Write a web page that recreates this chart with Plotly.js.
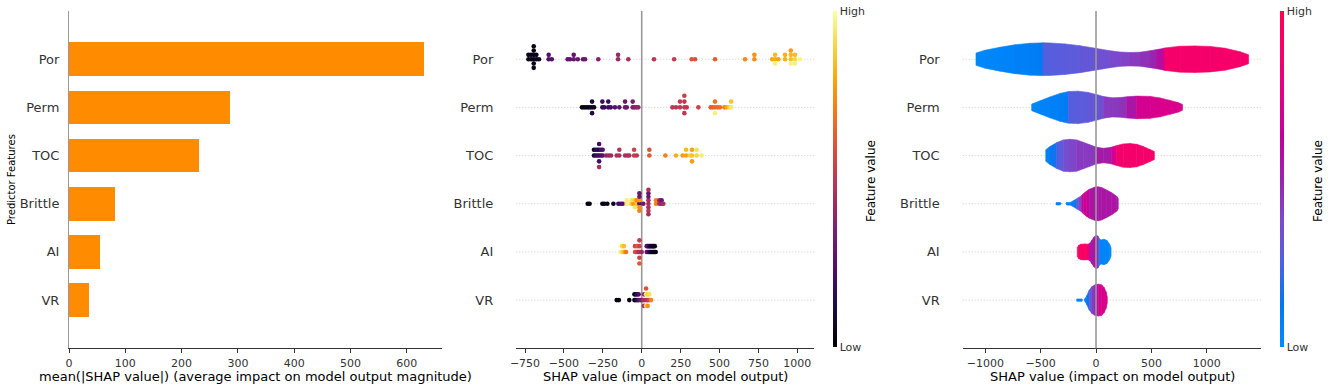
<!DOCTYPE html>
<html><head><meta charset="utf-8">
<script src="https://cdn.plot.ly/plotly-3.0.1.min.js"></script>
<style>html,body{margin:0;padding:0;background:#fff}#chart{width:1333px;height:389px}</style>
</head><body><div id="chart"></div>
<script>
// ---------------- DATA ----------------
const features = ['Por','Perm','TOC','Brittle','AI','VR'];
const meanAbsShap = [631, 286, 231, 81.5, 54.6, 35];

// beeswarm: SHAP values and normalised feature values (0 = low, 1 = high)
const porShap = [-728,-728,-711,-711,-694,-694,-694,-694,-694,-694,-677,-677,-660,-598,-598,-578,-476,-461,-437,-437,-411,-377,-364,-279,-152,-152,-86,79,208,321,343,471,664,724,724,839,857,857,857,878,921,921,958,958,958,958,985,985,985,1017];
const porFeat = [0.04,0.03,0.03,0.04,0.02,0.03,0.04,0.03,0.05,0.04,0.05,0.04,0.06,0.24,0.24,0.25,0.28,0.28,0.29,0.28,0.3,0.3,0.31,0.37,0.42,0.42,0.45,0.5,0.52,0.6,0.6,0.63,0.74,0.75,0.76,0.8,0.82,0.84,0.96,0.8,0.82,0.82,0.85,0.83,0.96,0.78,0.9,0.84,0.96,0.97];

const permShap = [-384,-371,-358,-345,-332,-319,-319,-319,-306,-253,-253,-240,-215,-215,-199,-172,-144,-107,-107,-96,-58,-58,-47,-35,-22,197,220,246,246,274,274,274,274,289,364,443,456,471,471,471,488,503,531,546,563,574,574];
const permFeat = [0.03,0.03,0.04,0.03,0.04,0.05,0.1,0.12,0.06,0.17,0.18,0.18,0.19,0.18,0.2,0.25,0.27,0.3,0.29,0.31,0.34,0.33,0.37,0.38,0.39,0.5,0.5,0.5,0.52,0.52,0.5,0.5,0.53,0.5,0.55,0.63,0.64,0.66,0.68,0.96,0.66,0.67,0.72,0.8,0.88,0.94,0.86];

const tocShap = [-307,-307,-296,-296,-285,-285,-274,-274,-274,-274,-274,-262,-262,-251,-251,-229,-212,-197,-161,-144,-144,-107,-92,-80,-49,-49,-32,49,49,152,220,263,285,285,310,323,323,323,353,353,385];
const tocFeat = [0.1,0.05,0.15,0.12,0.2,0.18,0.2,0.1,0.2,0.2,0.45,0.22,0.22,0.25,0.24,0.4,0.42,0.43,0.45,0.46,0.48,0.45,0.46,0.47,0.52,0.55,0.5,0.62,0.6,0.72,0.82,0.78,0.79,0.84,0.88,0.86,0.79,0.78,0.9,0.92,0.95];

const brittleShap = [-347,-335,-253,-240,-221,-182,-150,-135,-122,-97,-97,-86,-65,-65,-54,-54,-43,-43,-43,-32,-32,-15,-15,-15,-15,-15,-15,10,43,43,43,43,43,43,43,43,92,92,113,113,128,128,139];
const brittleFeat = [0.02,0.02,0.04,0.04,0.05,0.05,0.2,0.22,0.22,0.93,0.96,0.96,0.88,0.93,0.75,0.92,0.78,0.88,0.93,0.85,0.75,0.25,0.78,0.75,0.3,0.72,0.3,0.3,0.45,0.45,0.45,0.3,0.5,0.3,0.45,0.45,0.72,0.72,0.45,0.4,0.4,0.3,0.45];

const aiShap = [-135,-128,-128,-122,-115,-115,-108,-101,-43,-43,-36,-28,-28,-22,-15,-15,-15,-15,-15,-8,0,32,32,38,38,45,45,51,51,58,58,64,64,71,71,77,77,84,84,90];
const aiFeat = [0.96,0.93,0.92,0.9,0.88,0.85,0.8,0.7,0.6,0.55,0.58,0.55,0.62,0.5,0.45,0.55,0.55,0.52,0.62,0.48,0.42,0.3,0.28,0.27,0.25,0.22,0.2,0.15,0.12,0.1,0.08,0.06,0.07,0.05,0.04,0.04,0.05,0.03,0.05,0.04];

const vrShap = [-161,-147,-80,-47,-47,-38,-38,-30,-30,-20,-20,-8,5,15,15,15,28,28,28,28,38,38,38,48,48,60];
const vrFeat = [0.02,0.02,0.03,0.03,0.05,0.08,0.04,0.12,0.15,0.25,0.22,0.3,0.4,0.45,0.42,0.45,0.45,0.95,0.92,0.6,0.5,0.88,0.75,0.55,0.92,0.72];

// layered violins: knot SHAP position, half-width (row units), feature-value colour of the band starting there
const porVx = [-1084,-1003,-867,-732,-596,-506,-479,-416,-280,-145,-9,126,217,307,397,488,551,605,623,759,894,1030,1165,1301,1378];
const porVw = [0.128,0.186,0.248,0.300,0.331,0.337,0.340,0.337,0.317,0.280,0.228,0.176,0.149,0.139,0.145,0.176,0.200,0.222,0.234,0.269,0.275,0.265,0.228,0.155,0.093];
const porVc = [0.02,0.03,0.05,0.07,0.09,0.11,0.27,0.28,0.29,0.31,0.34,0.37,0.39,0.42,0.45,0.5,0.58,0.7,0.88,0.88,0.88,0.88,0.88,0.88,0.88];

const permVx = [-581,-506,-416,-325,-248,-163,-72,18,66,145,217,277,368,488,578,668,741,781];
const permVw = [0.068,0.135,0.217,0.290,0.327,0.337,0.311,0.259,0.226,0.199,0.203,0.220,0.234,0.228,0.197,0.145,0.099,0.062];
const permVc = [0.03,0.05,0.07,0.1,0.28,0.29,0.31,0.33,0.42,0.43,0.45,0.55,0.7,0.71,0.72,0.72,0.72,0.72];

const tocVx = [-454,-416,-355,-295,-235,-174,-115,-54,6,66,126,142,187,247,307,368,427,488,527];
const tocVw = [0.120,0.186,0.269,0.325,0.337,0.325,0.275,0.222,0.172,0.151,0.166,0.176,0.207,0.242,0.248,0.234,0.186,0.124,0.083];
const tocVc = [0.05,0.15,0.28,0.36,0.38,0.42,0.42,0.43,0.53,0.53,0.55,0.7,0.88,0.88,0.88,0.88,0.88,0.88,0.88];

const brittleVx = [-361,-325,-312,-271,-265,-229,-205,-174,-160,-129,-115,-84,-61,-9,21,51,97,142,187,201];
const brittleVw = [0.025,0.025,0,0,0.025,0.031,0.062,0.104,0.125,0.170,0.207,0.263,0.300,0.346,0.352,0.337,0.284,0.228,0.155,0.104];
const brittleVc = [0.05,0.05,0.05,0.05,0.05,0.08,0.15,0.25,0.38,0.66,0.66,0.66,0.55,0.55,0.55,0.55,0.55,0.55,0.55,0.55];

const aiVx = [-169,-158,-136,-99,-72,-54,-36,-18,0,18,32,45,72,99,122,136];
const aiVw = [0.093,0.135,0.161,0.166,0.161,0.186,0.248,0.311,0.342,0.331,0.269,0.248,0.265,0.238,0.166,0.083];
const aiVc = [0.92,0.92,0.92,0.92,0.75,0.55,0.55,0.55,0.5,0.33,0.05,0.04,0.03,0.03,0.03,0.03];

const vrVx = [-174,-129,-122,-106,-99,-84,-61,-39,-9,21,51,72,90,102];
const vrVw = [0.025,0.025,0,0,0.031,0.089,0.207,0.275,0.317,0.331,0.317,0.263,0.176,0.062];
const vrVc = [0.05,0.05,0.05,0.05,0.1,0.12,0.3,0.42,0.55,0.72,0.72,0.72,0.72,0.72];

const lowHigh = ['Low','High'];

// ---------------- STYLE ----------------
const W = 1333, H = 389;
const inferno = [[0,'#000004'],[0.1,'#160b39'],[0.2,'#420a68'],[0.3,'#6a176e'],[0.4,'#932667'],[0.5,'#bc3754'],[0.6,'#dd513a'],[0.7,'#f37819'],[0.8,'#fca50a'],[0.9,'#f6d746'],[1,'#fcffa4']];
const redBlueStops = [[0,[0,139,251]],[0.125,[0,120,243]],[0.25,[75,99,227]],[0.375,[125,73,203]],[0.5,[155,35,173]],[0.625,[194,0,156]],[0.75,[224,0,134]],[0.875,[245,0,108]],[1,[255,0,80]]];
const redBlue = redBlueStops.map(s => [s[0], 'rgb(' + s[1].join(',') + ')']);
function rbColor(t){
  t = Math.max(0, Math.min(1, t));
  for (let k = 1; k < redBlueStops.length; k++){
    const a = redBlueStops[k-1], b = redBlueStops[k];
    if (t <= b[0]){
      const f = (t - a[0]) / (b[0] - a[0]);
      const c = a[1].map((v, j) => Math.round(v + (b[1][j] - v) * f));
      return 'rgb(' + c.join(',') + ')';
    }
  }
  return 'rgb(255,0,80)';
}
const rowPos = i => features.length - 1 - i;
const tickVals = features.map((f, i) => rowPos(i));

// SHAP-style beeswarm offsets (quantised bins, alternating layers)
function beeswarmOffsets(xs, rowHeight){
  const N = xs.length, nbins = 100;
  const mn = Math.min(...xs), mx = Math.max(...xs);
  const quant = xs.map(v => Math.round(nbins * (v - mn) / (mx - mn + 1e-8)));
  const inds = xs.map((_, i) => i).sort((a, b) => (quant[a] - quant[b]) || (a - b));
  const ys = new Array(N).fill(0);
  let layer = 0, last = -1;
  for (const ind of inds){
    if (quant[ind] !== last) layer = 0;
    ys[ind] = Math.ceil(layer / 2) * ((layer % 2) * 2 - 1);
    layer++; last = quant[ind];
  }
  const m = Math.max(...ys.map(y => y + 1));
  return ys.map(y => y * 0.9 * (rowHeight / m));
}

const traces = [];
// Panel 1: bars
traces.push({type:'bar', orientation:'h', x: meanAbsShap, y: tickVals, width: 0.7,
  marker:{color:'#ff8c00', line:{width:0}}, xaxis:'x', yaxis:'y', hoverinfo:'skip'});

// Panel 2: beeswarm
const swarm = [[porShap, porFeat],[permShap, permFeat],[tocShap, tocFeat],[brittleShap, brittleFeat],[aiShap, aiFeat],[vrShap, vrFeat]];
swarm.forEach(([xs, cs], i) => {
  const off = beeswarmOffsets(xs, 0.4);
  traces.push({type:'scatter', mode:'markers', x: xs, y: off.map(o => rowPos(i) + o),
    xaxis:'x2', yaxis:'y2', cliponaxis:false, hoverinfo:'skip',
    marker:{color: cs, coloraxis:'coloraxis', size:4.6, line:{width:0}}});
});

// Panel 3: layered violins
const viol = [[porVx, porVw, porVc],[permVx, permVw, permVc],[tocVx, tocVw, tocVc],[brittleVx, brittleVw, brittleVc],[aiVx, aiVw, aiVc],[vrVx, vrVw, vrVc]];
viol.forEach(([vx, vw, vc], i) => {
  const p = rowPos(i);
  for (let k = 0; k < vx.length - 1; k++){
    if (vw[k] === 0 && vw[k+1] === 0) continue;
    const col = rbColor(vc[k]);
    traces.push({type:'scatter', mode:'lines', fill:'toself', fillcolor: col,
      line:{color: col, width:0.6},
      x:[vx[k], vx[k+1], vx[k+1], vx[k], vx[k]],
      y:[p + vw[k], p + vw[k+1], p - vw[k+1], p - vw[k], p + vw[k]],
      xaxis:'x3', yaxis:'y3', hoverinfo:'skip'});
  }
  // invisible knots carrying the colour axis for the colour bar
  traces.push({type:'scatter', mode:'markers', x: vx, y: vx.map(() => p), xaxis:'x3', yaxis:'y3',
    marker:{color: vc, coloraxis:'coloraxis2', size:1, opacity:0}, hoverinfo:'skip'});
});

const yDom = [1 - 348.3 / H, 1 - 11 / H];
const fontFam = 'DejaVu Sans, Liberation Sans, sans-serif';
const xBase = {showgrid:false, zeroline:false, showline:true, linecolor:'#333333', linewidth:1,
  ticks:'outside', ticklen:3.5, tickwidth:1, tickcolor:'#333333', ticklabelstandoff:1,
  tickfont:{size:11, color:'#333333'}};
const yBase = {showgrid:false, zeroline:false, range:[-1, 6], domain: yDom, tickvals: tickVals, ticktext: features,
  ticks:'', tickfont:{size:13, color:'#333333'}};

const shapes = [];
[['x2','y2'],['x3','y3']].forEach(([xa, ya], j) => {
  tickVals.forEach(v => shapes.push({type:'line', xref: xa + ' domain', x0:0, x1:1, yref: ya, y0:v, y1:v,
    line:{color:'#cccccc', width:1, dash:'1px,2px'}, layer:'below'}));
  shapes.push({type:'line', xref: xa, x0:0, x1:0, yref: ya + ' domain', y0:0, y1:1,
    line:{color:'#999999', width:1.6}, layer: j === 0 ? 'below' : 'above'});
});

const cbBase = {xanchor:'left', xpad:0, ypad:0, y: 1 - 179 / H, yanchor:'middle', lenmode:'fraction', len: 336 / H,
  thickness:4, outlinewidth:0, tickvals:[0,1], ticktext: lowHigh, ticks:'', tickfont:{size:11, color:'#333333'}};

const layout = {
  width: W, height: H, margin:{l:0, r:0, t:0, b:0}, paper_bgcolor:'#ffffff', plot_bgcolor:'rgba(0,0,0,0)',
  font:{family: fontFam, color:'#333333', size:13}, showlegend:false, bargap:0,
  xaxis: Object.assign({}, xBase, {domain:[69 / W, 441.7 / W], range:[0, 662], dtick:100, anchor:'y'}),
  yaxis: Object.assign({}, yBase, {anchor:'x', showline:true, linecolor:'#999999', linewidth:1, ticklabelstandoff:6}),
  xaxis2: Object.assign({}, xBase, {domain:[516.3 / W, 814.3 / W], range:[-806, 1109], tickvals:[-750,-500,-250,0,250,500,750,1000], anchor:'y2'}),
  yaxis2: Object.assign({}, yBase, {anchor:'x2', showline:false, ticklabelstandoff:22}),
  xaxis3: Object.assign({}, xBase, {domain:[962.7 / W, 1261 / W], range:[-1204, 1490], tickvals:[-1000,-500,0,500,1000], anchor:'y3'}),
  yaxis3: Object.assign({}, yBase, {anchor:'x3', showline:false, ticklabelstandoff:22}),
  coloraxis:{colorscale: inferno, cmin:0, cmax:1, colorbar: Object.assign({}, cbBase, {x: 833 / W})},
  coloraxis2:{colorscale: redBlue, cmin:0, cmax:1, colorbar: Object.assign({}, cbBase, {x: 1280 / W})},
  shapes: shapes,
  annotations: [
    {text:'mean(|SHAP value|) (average impact on model output magnitude)', xref:'paper', yref:'paper',
      x: 255 / W, y: 1 - 376 / H, xanchor:'center', yanchor:'middle', showarrow:false, font:{size:13, color:'#000000'}},
    {text:'SHAP value (impact on model output)', xref:'paper', yref:'paper',
      x: 665 / W, y: 1 - 376 / H, xanchor:'center', yanchor:'middle', showarrow:false, font:{size:13, color:'#000000'}},
    {text:'SHAP value (impact on model output)', xref:'paper', yref:'paper',
      x: 1112 / W, y: 1 - 376 / H, xanchor:'center', yanchor:'middle', showarrow:false, font:{size:13, color:'#000000'}},
    {text:'Predictor Features', xref:'paper', yref:'paper', x: 11 / W, y: 1 - 180 / H, textangle:-90,
      xanchor:'center', yanchor:'middle', showarrow:false, font:{size:10, color:'#000000'}},
    {text:'Feature value', xref:'paper', yref:'paper', x: 871 / W, y: 1 - 181 / H, textangle:-90,
      xanchor:'center', yanchor:'middle', showarrow:false, font:{size:12, color:'#000000'}},
    {text:'Feature value', xref:'paper', yref:'paper', x: 1318 / W, y: 1 - 181 / H, textangle:-90,
      xanchor:'center', yanchor:'middle', showarrow:false, font:{size:12, color:'#000000'}}
  ]
};

Plotly.newPlot('chart', traces, layout, {staticPlot:true, displayModeBar:false});
</script></body></html>
